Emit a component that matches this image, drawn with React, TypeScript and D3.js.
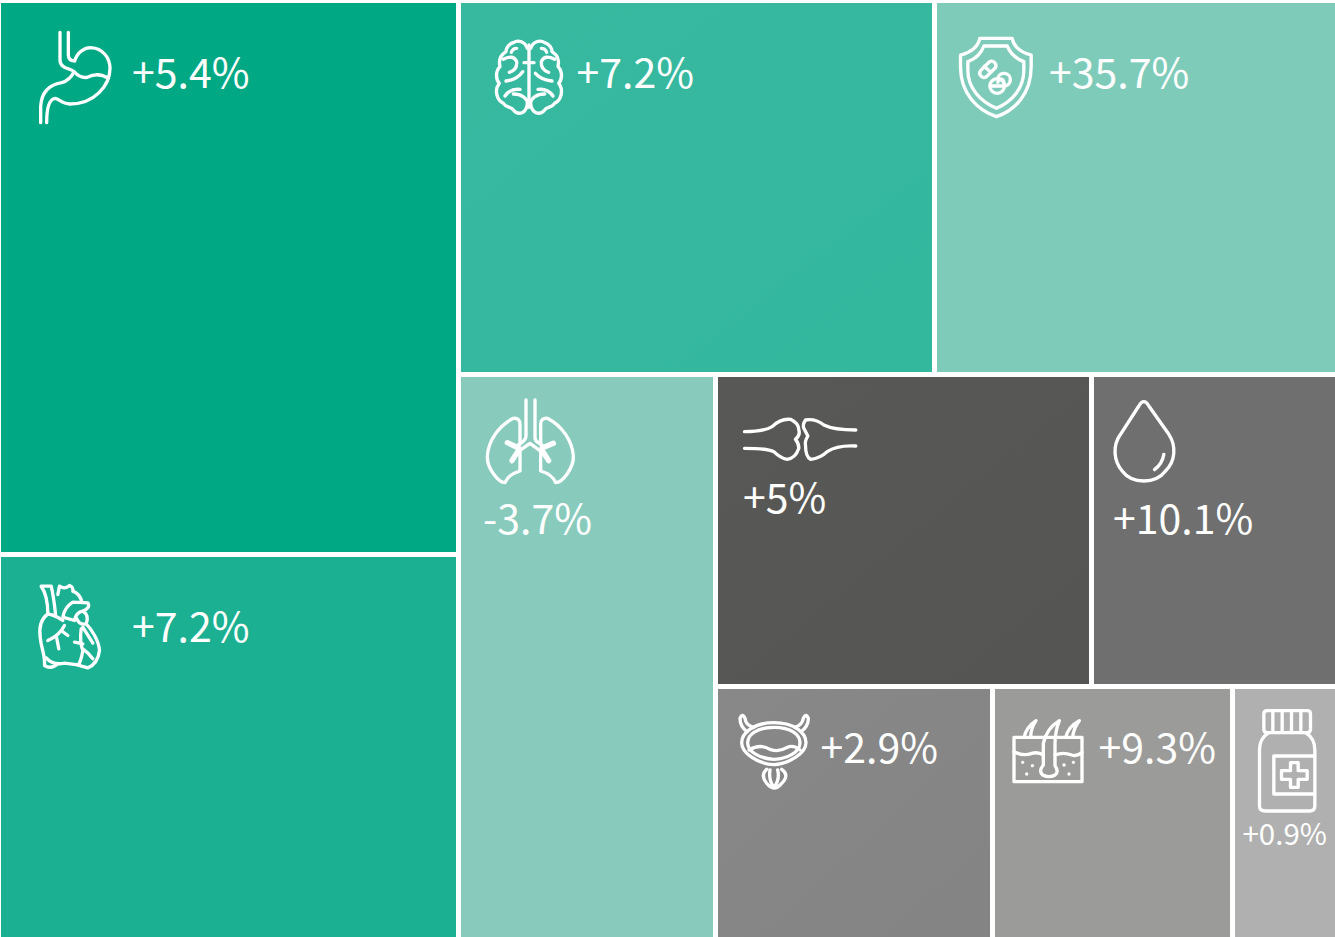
import React from "react";
import * as d3 from "d3";

const WIDTH = 1335;
const HEIGHT = 937;

const categories = ["stomach", "heart", "brain", "shield", "lungs", "bones", "blood", "bladder", "skin", "pill"];
const changes = ["+5.4%", "+7.2%", "+7.2%", "+35.7%", "-3.7%", "+5%", "+10.1%", "+2.9%", "+9.3%", "+0.9%"];
const sizes = [254.84, 177.56, 178.02, 150.72, 145.46, 117.31, 76.75, 70.36, 60.96, 26.67];
const colorsFrom = ["#01A884", "#1AB091", "#37B9A0", "#7FCBBA", "#88CBBD", "#585856", "#6F6F6F", "#888888", "#9B9B99", "#B0B0B0"];
const colorsTo = ["#01A884", "#1AB091", "#33B79D", "#7FCBBA", "#88CBBD", "#555553", "#6F6F6F", "#848484", "#9B9B99", "#B0B0B0"];

type Glyph = { ox: number; oy: number; lx: number; ly: number; fs: number; paths: string[]; thick?: string[] };

const glyphs: Record<string, Glyph> = {
  stomach: {
    ox: -1, oy: -3, lx: 131, ly: 84.5, fs: 41,
    paths: [
      "M180 97 V180 Q180 197 198 204 Q218 210 222 215 Q210 240 185 248 Q125 258 122 320 V368",
      "M205 97 V165 Q205 182 224 183 C232 155 255 143 272 143 C310 145 330 175 330 205 C330 255 285 312 210 312 C185 312 175 295 165 295 C145 298 140 330 140 368",
      "M222 215 Q240 235 262 232 Q295 215 325 235",
    ],
  },
  brain: {
    ox: 9, oy: 17, lx: 115.5, ly: 84.5, fs: 41,
    paths: [
      "M177 75 V262",
      "M172 85 C165 65 145 58 130 68 C115 72 108 85 108 95 C92 105 85 120 90 140 C75 155 78 180 88 190 C72 210 80 240 100 250 C110 265 125 260 130 270 C145 288 170 280 172 250 C172 235 155 222 130 222",
      "M182 85 C189 65 209 58 224 68 C239 72 246 85 246 95 C262 105 269 120 264 140 C279 155 276 180 266 190 C282 210 274 240 254 250 C244 265 229 260 224 270 C209 288 184 280 182 250 C182 235 199 222 224 222",
      "M100 118 Q130 102 140 125 Q142 150 118 157 M108 183 Q140 180 158 155 M105 228 Q120 205 150 208 M162 128 H192",
      "M254 118 Q224 102 214 125 Q212 150 236 157 M246 183 Q214 180 196 160 M249 228 Q234 205 204 208",
      "M140 85 Q128 85 124 97 M214 85 Q226 85 230 97",
    ],
  },
  shield: {
    ox: 3.5, oy: 17, lx: 112, ly: 84.5, fs: 41,
    paths: [
      "M118 55 H215 Q222 92 272 105 V140 C272 220 225 270 168 290 C110 270 60 220 60 140 V105 Q110 92 118 55 Z",
      "M130 78 H200 Q215 112 250 125 V150 C250 205 215 245 168 265 C120 245 82 205 82 150 V125 Q118 112 130 78 Z",
      "M138 170 L164 144 A13 13 0 0 0 146 126 L120 152 A13 13 0 0 0 138 170 Z M131 139 L151 157",
      "M170 176 A22 22 0 1 0 170 220 A22 22 0 1 0 170 176 Z M150 198 H190",
      "M172 175 A19 19 0 1 1 190 198 M172 187 A8 8 0 0 1 190 186",
    ],
  },
  heart: {
    ox: 18.5, oy: 13.5, lx: 131, ly: 84.5, fs: 41,
    paths: [
      "M108 130 Q102 75 95 47 H65 Q85 75 85 130 C65 145 58 170 62 200 C65 235 78 255 75 285 Q95 298 115 280",
      "M80 262 Q100 285 135 278 Q170 280 205 292 Q235 280 240 240 C238 210 215 175 200 160",
      "M115 72 L120 47 Q135 58 150 45 Q162 50 160 62 Q182 70 187 95",
      "M130 140 Q135 110 160 95 L205 97 Q214 112 190 122 Q170 125 165 150 L130 140",
      "M190 122 Q210 135 200 160 Q180 165 172 145",
      "M85 130 Q110 135 130 150",
      "M135 165 Q120 195 85 210 M110 195 Q115 220 118 235 M125 180 L145 195",
      "M185 175 Q180 215 190 240 Q185 270 178 280 M165 215 L190 220 M190 170 L220 218 M190 235 Q205 245 220 265",
    ],
  },
  lungs: {
    ox: 9, oy: 9, lx: 22, ly: 157, fs: 41,
    paths: [
      "M168 42 V150 Q168 160 155 170 L140 180",
      "M195 42 V155 Q195 165 208 172 L222 182",
      "M140 200 L180 172 L215 198",
      "M150 175 V115 Q150 95 130 97 C85 120 55 165 52 210 C50 245 85 290 105 290 Q115 265 150 255 V195",
      "M212 175 V115 Q212 95 232 97 C277 120 307 165 310 210 C312 245 277 290 257 290 Q247 265 212 255 V195",
    ],
    thick: ["M112 170 L146 186 M126 224 L145 194 M250 172 L216 186 M236 224 L217 194"],
  },
  bones: {
    ox: 12.5, oy: 23, lx: 25, ly: 136.5, fs: 41,
    paths: [
      "M42 95 Q100 95 125 80 Q150 55 180 58 Q205 70 205 90 Q210 105 195 118 Q205 130 205 145 Q195 175 170 178 Q150 175 130 155 Q110 145 42 145",
      "M376 90 Q310 90 280 75 Q255 55 225 60 Q215 75 220 85 L232 108 Q222 125 225 135 Q225 170 240 178 Q270 175 290 155 Q320 135 376 138",
    ],
  },
  blood: {
    ox: 6.5, oy: 14, lx: 19, ly: 157.5, fs: 41,
    paths: [
      "M130 32 Q122 32 115 45 L60 130 C35 165 40 210 65 240 C95 280 165 280 195 240 C225 210 228 165 205 130 L145 45 Q138 32 130 32 Z",
      "M190 190 Q185 220 162 236",
    ],
  },
  bladder: {
    ox: 7, oy: 11, lx: 102.5, ly: 74.5, fs: 41,
    paths: [
      "M147 68 C210 68 243 100 243 128 C243 160 190 192 147 194 C100 192 50 160 50 128 C50 100 85 68 147 68 Z",
      "M147 82 C200 82 225 105 225 128 C225 155 190 176 147 178 C105 176 68 155 68 128 C68 105 95 82 147 82 Z",
      "M72 150 Q105 130 135 148 Q160 158 185 143 Q205 133 225 150",
      "M66 95 Q45 80 45 55 Q52 38 60 55 Q62 75 85 82 M228 95 Q250 80 250 55 Q243 38 235 55 Q232 75 210 82",
      "M125 208 Q105 225 125 250 Q147 278 170 250 Q195 225 170 208 M135 210 Q130 240 147 262 Q165 240 158 210",
    ],
  },
  skin: {
    ox: 5, oy: 16, lx: 103.5, ly: 74.5, fs: 41,
    paths: [
      "M42 97 H246 V230 H42 Z",
      "M42 140 Q70 155 95 145 Q115 140 130 150 M165 150 Q190 140 215 150 Q232 155 246 142",
      "M130 180 V115 Q140 70 178 47 Q165 80 165 115 V182 Q178 200 165 210 Q148 220 128 210 Q115 198 130 180",
      "M72 97 Q80 65 108 47 Q92 70 92 97 M197 97 Q205 65 238 47 Q220 70 218 97",
      "M68 172 h0.1 M97 182 h0.1 M80 207 h0.1 M192 180 h0.1 M220 172 h0.1 M207 207 h0.1",
    ],
  },
  pill: {
    ox: 0.5, oy: 11, lx: 7.5, ly: 156, fs: 29.5,
    paths: [
      "M95 32 H215 Q225 32 225 42 V88 Q225 98 215 98 H95 Q85 98 85 88 V42 Q85 32 95 32 Z M112 32 V98 M140 32 V98 M168 32 V98 M196 32 V98",
      "M100 98 Q72 115 72 150 V318 Q72 333 90 333 H222 Q238 333 238 318 V150 Q238 115 210 98",
      "M238 168 H115 V282 H238",
      "M165 188 H188 V212 H215 V238 H188 V262 H165 V238 H138 V212 H165 Z",
    ],
  },
};

type TreeNode = { name?: string; dir?: "h" | "v"; value?: number; children?: TreeNode[] };

const leaf = (name: string): TreeNode => ({ name, value: sizes[categories.indexOf(name)] });

const tree: TreeNode = {
  dir: "h",
  children: [
    { dir: "v", children: [leaf("stomach"), leaf("heart")] },
    {
      dir: "v",
      children: [
        { dir: "h", children: [leaf("brain"), leaf("shield")] },
        {
          dir: "h",
          children: [
            leaf("lungs"),
            {
              dir: "v",
              children: [
                { dir: "h", children: [leaf("bones"), leaf("blood")] },
                { dir: "h", children: [leaf("bladder"), leaf("skin"), leaf("pill")] },
              ],
            },
          ],
        },
      ],
    },
  ],
};

const FONT = "'Noto Sans CJK SC', 'Noto Sans', sans-serif";

export default function App() {
  const root = d3.hierarchy<TreeNode>(tree).sum((d) => d.value ?? 0);
  const layout = d3
    .treemap<TreeNode>()
    .size([1334, 935])
    .paddingInner(5)
    .tile((node, x0, y0, x1, y1) => {
      if (node.data.dir === "h") d3.treemapDice(node, x0, y0, x1, y1);
      else d3.treemapSlice(node, x0, y0, x1, y1);
    });
  const leaves = layout(root).leaves();

  return (
    <svg
      width={WIDTH}
      height={HEIGHT}
      viewBox={`0 0 ${WIDTH} ${HEIGHT}`}
      style={{ position: "absolute", left: 0, top: 0, background: "#fff", display: "block" }}
    >
      <defs>
        {categories.map((c, i) => (
          <linearGradient key={c} id={`grad-${c}`} x1="0" y1="0" x2="1" y2="1">
            <stop offset="0" stopColor={colorsFrom[i]} />
            <stop offset="1" stopColor={colorsTo[i]} />
          </linearGradient>
        ))}
      </defs>
      <g transform="translate(1,3)">
        {leaves.map((n) => {
          const name = n.data.name as string;
          const idx = categories.indexOf(name);
          const g = glyphs[name];
          return (
            <g key={name} transform={`translate(${n.x0},${n.y0})`}>
              <rect width={n.x1 - n.x0} height={n.y1 - n.y0} fill={`url(#grad-${name})`} />
              <g
                transform={`translate(${g.ox},${g.oy}) scale(${1 / 3})`}
                fill="none"
                stroke="#fff"
                strokeWidth={10}
                strokeLinecap="round"
                strokeLinejoin="round"
              >
                {g.paths.map((d, k) => (
                  <path key={k} d={d} />
                ))}
                {(g.thick ?? []).map((d, k) => (
                  <path key={k} d={d} strokeWidth={16} />
                ))}
              </g>
              <text x={g.lx} y={g.ly} fill="#fff" fontFamily={FONT} fontSize={g.fs}>
                {changes[idx]}
              </text>
            </g>
          );
        })}
      </g>
    </svg>
  );
}
